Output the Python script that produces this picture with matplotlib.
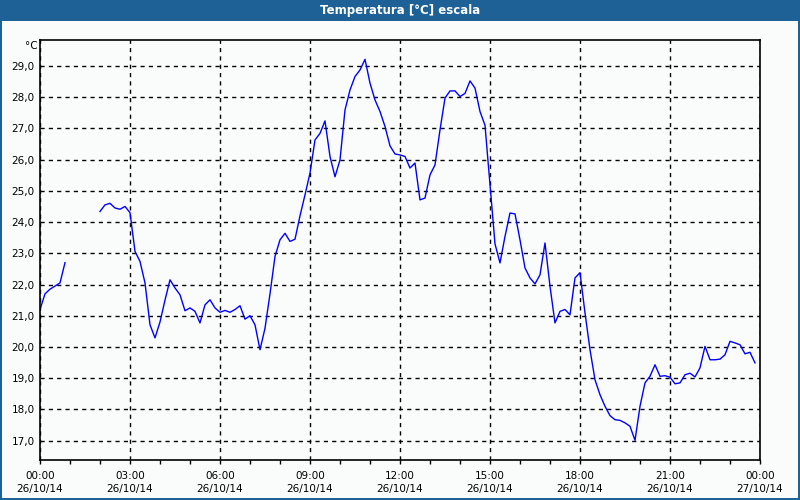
import numpy as np
import matplotlib
matplotlib.use("Agg")
import matplotlib.pyplot as plt
from matplotlib.patches import Rectangle

# time in hours since 26/10/14 00:00, 10-minute samples
hours = np.arange(0, 24, 1 / 6)
temps = [
    21.2, 21.7, 21.85, 21.95, 22.05, 22.7,                 # 00:00-00:50
    np.nan, np.nan, np.nan, np.nan, np.nan, np.nan,       # 01:00-01:50 (no data)
    24.34, 24.55, 24.6, 24.45, 24.41, 24.5,               # 02:00
    24.3, 23.06, 22.74, 22.05, 20.71, 20.29,              # 03:00
    20.8, 21.5, 22.15, 21.89, 21.67, 21.16,               # 04:00
    21.25, 21.14, 20.77, 21.35, 21.51, 21.25,             # 05:00
    21.11, 21.17, 21.11, 21.2, 21.32, 20.89,              # 06:00
    21.0, 20.71, 19.91, 20.6, 21.7, 22.9,                 # 07:00
    23.43, 23.64, 23.38, 23.45, 24.2, 24.87,              # 08:00
    25.57, 26.63, 26.84, 27.24, 26.1, 25.45,              # 09:00
    25.99, 27.59, 28.23, 28.66, 28.87, 29.21,             # 10:00
    28.45, 27.91, 27.54, 27.06, 26.44, 26.18,             # 11:00
    26.15, 26.1, 25.73, 25.89, 24.71, 24.77,              # 12:00
    25.51, 25.83, 26.95, 27.97, 28.2, 28.2,               # 13:00
    28.02, 28.12, 28.52, 28.29, 27.54, 27.1,              # 14:00
    25.2, 23.3, 22.69, 23.54, 24.29, 24.26,               # 15:00
    23.43, 22.53, 22.21, 22.02, 22.31, 23.33,             # 16:00
    21.94, 20.77, 21.14, 21.2, 21.03, 22.21,              # 17:00
    22.38, 21.09, 19.91, 18.95, 18.47, 18.1,              # 18:00
    17.8, 17.67, 17.65, 17.57, 17.46, 17.01,              # 19:00
    18.1, 18.85, 19.06, 19.43, 19.06, 19.08,              # 20:00
    19.03, 18.82, 18.85, 19.11, 19.16, 19.04,             # 21:00
    19.33, 20.02, 19.59, 19.59, 19.61, 19.75,             # 22:00
    20.18, 20.13, 20.07, 19.78, 19.83, 19.49,             # 23:00
]
xtick_hours = [0, 3, 6, 9, 12, 15, 18, 21, 24]
xtick_labels = ["00:00\n26/10/14", "03:00\n26/10/14", "06:00\n26/10/14",
                "09:00\n26/10/14", "12:00\n26/10/14", "15:00\n26/10/14",
                "18:00\n26/10/14", "21:00\n26/10/14", "00:00\n27/10/14"]
ytick_values = [17, 18, 19, 20, 21, 22, 23, 24, 25, 26, 27, 28, 29]
title = "Temperatura [°C] escala"
unit = "°C"

bg = "#FAFCFC"
frame_blue = "#1E6197"

fig = plt.figure(figsize=(8, 5), dpi=100, facecolor=bg)

# title bar and frame
fig.patches.append(Rectangle((0, 1 - 21 / 500), 1, 21 / 500, transform=fig.transFigure,
                             facecolor=frame_blue, edgecolor="none", zorder=0))
fig.patches.append(Rectangle((1 / 800, 1 / 500), 1 - 2 / 800, 1 - 2 / 500,
                             transform=fig.transFigure, facecolor="none",
                             edgecolor=frame_blue, linewidth=1.44, zorder=5))
fig.text(0.5, 1 - 10.5 / 500, title, color="white", fontsize=8.5, fontweight="bold",
         ha="center", va="center")

ax = fig.add_axes([40 / 800, 1 - 460 / 500, 720 / 800, 420 / 500])
ax.set_facecolor(bg)
ax.plot(hours, temps, color="#0000FF", linewidth=1)

ax.set_xlim(0, 24)
ax.set_ylim(16.38, 29.83)
ax.set_xticks(xtick_hours)
ax.set_xticklabels(xtick_labels, fontsize=7.5, linespacing=1.35)
ax.set_xticks(np.arange(0, 25, 1), minor=True)
ax.set_yticks(ytick_values)
ax.set_yticklabels([f"{v:.1f}".replace(".", ",") for v in ytick_values], fontsize=7.5)
ax.tick_params(axis="x", which="both", direction="out", length=3, width=1, pad=5)
ax.tick_params(axis="y", length=0, pad=4)
ax.grid(True, which="major", color="black", linestyle=(0, (3, 3)), linewidth=1)
for s in ax.spines.values():
    s.set_linewidth(1.2)
    s.set_color("black")

fig.text(31 / 800, 1 - 46 / 500, unit, fontsize=7.5, ha="center", va="center")

fig.savefig("out.png", dpi=100, facecolor=bg)
